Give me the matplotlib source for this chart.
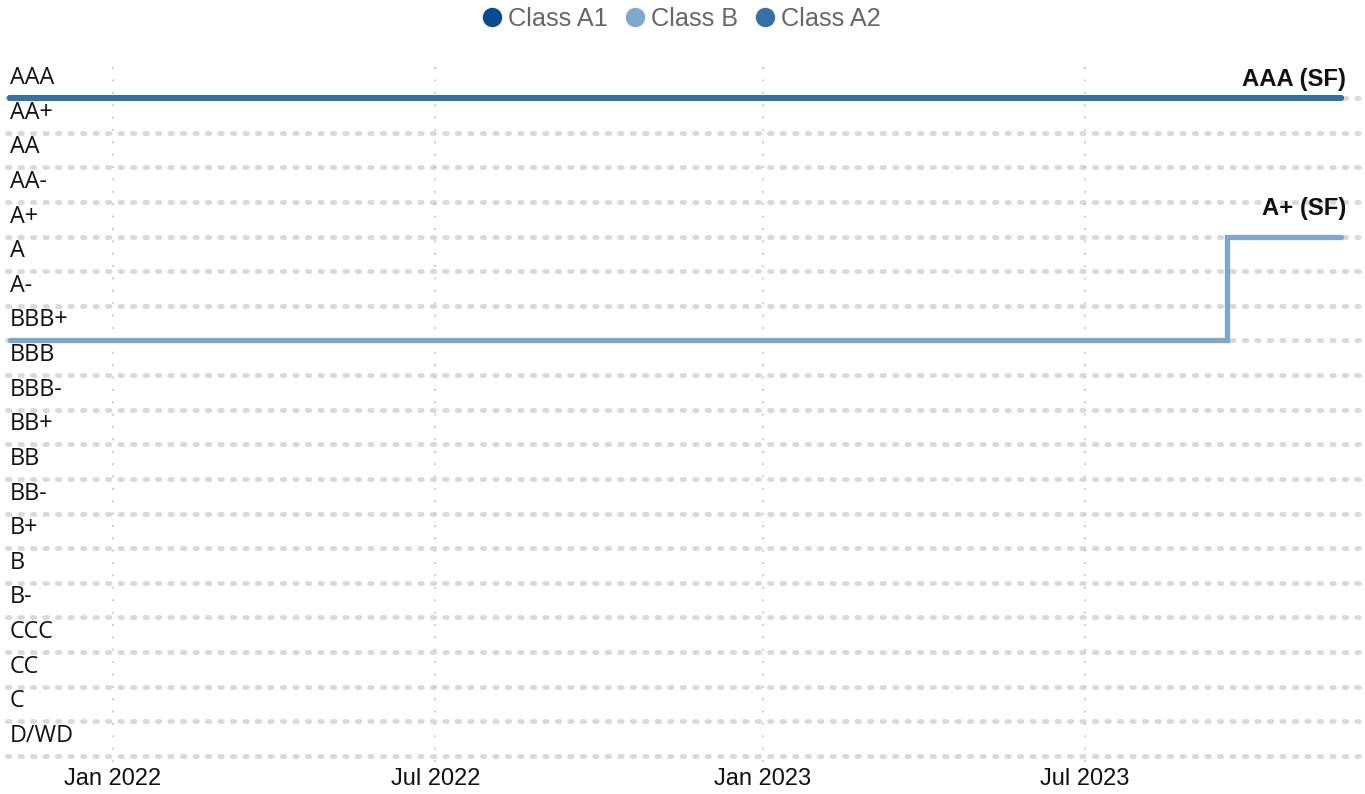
"""Rating history chart: Class A1, Class A2 and Class B ratings over time."""

from datetime import datetime, timedelta

import matplotlib

matplotlib.use("Agg")
import matplotlib.pyplot as plt
import matplotlib.transforms as mtransforms
from matplotlib.lines import Line2D

# Rating scale, best at the top
ratings = ["AAA", "AA+", "AA", "AA-", "A+", "A", "A-", "BBB+", "BBB", "BBB-",
           "BB+", "BB", "BB-", "B+", "B", "B-", "CCC", "CC", "C", "D/WD"]

# Series (step changes, held until the next date)
a1_dates = ["2021-11-04", "2023-11-22"]
a1_ratings = ["AAA", "AAA"]

b_dates = ["2021-11-04", "2023-09-19", "2023-11-22"]
b_ratings = ["BBB+", "A+", "A+"]

a2_dates = ["2021-11-04", "2023-11-22"]
a2_ratings = ["AAA", "AAA"]

tick_dates = ["2022-01-01", "2022-07-01", "2023-01-01", "2023-07-01"]
tick_labels = ["Jan 2022", "Jul 2022", "Jan 2023", "Jul 2023"]

end_labels = ["AAA (SF)", "A+ (SF)"]

C_A1 = "#0b4a8f"
C_B = "#7fa7c9"
C_A2 = "#3670a5"
GRID = "#d9d9d9"


def to_dates(values):
    return [datetime.strptime(v, "%Y-%m-%d") for v in values]


def to_levels(values):
    return [ratings.index(v) for v in values]


W, H = 1365, 794
fig = plt.figure(figsize=(W / 100, H / 100), dpi=100)

# Axes placed in pixels: spans the full width, top at 60px and bottom at 762px
ax_top, ax_bottom = 60, 762
ax = fig.add_axes([0, 1 - ax_bottom / H, 1, (ax_bottom - ax_top) / H])

# Scale: first rating line at y=98px, 34.63px per notch; Jan 2022 at x=113px
row_px = 34.63
first_row = 98
ax.set_ylim((ax_bottom - first_row) / row_px, (ax_top - first_row) / row_px)

day_px = 1.7802
origin = datetime(2022, 1, 1)
ax.set_xlim(origin - timedelta(days=113 / day_px),
            origin + timedelta(days=(W - 113) / day_px))

for s in ax.spines.values():
    s.set_visible(False)

# Horizontal dotted rating lines
for i in range(len(ratings)):
    ax.axhline(i, xmin=7 / W, xmax=1, color=GRID, lw=3.5,
               dashes=(0.5, 2.07), dash_capstyle="round", zorder=1)

# Vertical month gridlines
ax.set_xticks(to_dates(tick_dates))
ax.set_xticklabels(tick_labels, fontsize=17, family="Liberation Sans", color="#111111")
ax.tick_params(axis="x", length=0, pad=4)
ax.grid(axis="x", color="#bdbdbd", lw=1.1, linestyle=(0, (1.2, 6.9)), zorder=0)
ax.set_yticks([])

# Rating labels sit just above their line
ylab_tr = mtransforms.offset_copy(
    mtransforms.blended_transform_factory(ax.transAxes, ax.transData),
    fig=fig, y=14, units="dots")
for i, r in enumerate(ratings):
    ax.text(10 / W, i, r, transform=ylab_tr, ha="left", va="baseline",
            fontsize=16.8, family="Open Sans", color="#111111")

# Series
ax.step(to_dates(a1_dates), to_levels(a1_ratings), where="post", color=C_A1,
        lw=4.2, solid_capstyle="round", solid_joinstyle="miter", zorder=3)
ax.step(to_dates(b_dates), to_levels(b_ratings), where="post", color=C_B,
        lw=3.8, solid_capstyle="round", solid_joinstyle="miter", zorder=3)
ax.step(to_dates(a2_dates), to_levels(a2_ratings), where="post", color=C_A2,
        lw=4.2, solid_capstyle="round", solid_joinstyle="miter", zorder=4)

# End-of-line rating labels
for lbl, d, r, dy in [(end_labels[0], a2_dates[-1], a2_ratings[-1], 12),
                      (end_labels[1], b_dates[-1], b_ratings[-1], 22)]:
    tr = mtransforms.offset_copy(ax.transData, fig=fig, x=5, y=dy, units="dots")
    ax.text(to_dates([d])[0], ratings.index(r), lbl, transform=tr,
            ha="right", va="baseline", fontsize=17.2, fontweight="bold",
            family="Liberation Sans", color="#111111")

# Legend
handles = [Line2D([], [], ls="none", marker="o", ms=14, color=c, markeredgewidth=0)
           for c in (C_A1, C_B, C_A2)]
leg = fig.legend(handles, ["Class A1", "Class B", "Class A2"], loc="center",
                 bbox_to_anchor=(0.497, 1 - 19 / H), ncol=3, frameon=False,
                 handletextpad=0.0, columnspacing=0.45, handlelength=1.25,
                 prop={"family": "Liberation Sans", "size": 18.2})
for t in leg.get_texts():
    t.set_color("#666666")

fig.savefig("out.png", dpi=100)
